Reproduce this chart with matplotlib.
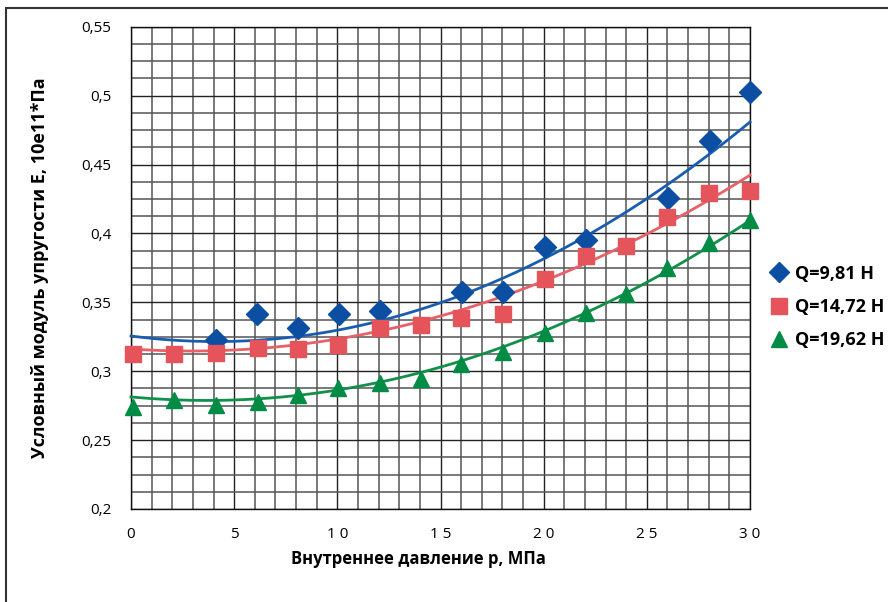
import numpy as np
import matplotlib
matplotlib.use("Agg")
import matplotlib.pyplot as plt
from matplotlib.lines import Line2D
from matplotlib.patches import Rectangle

# ---- measured points ----
p_q1 = [4.1, 6.1, 8.1, 10.1, 12.05, 16.05, 18.05, 20.05, 22.05, 26.05, 28.05, 30]
e_q1 = [0.323, 0.3415, 0.331, 0.3415, 0.344, 0.3575, 0.3575, 0.390, 0.395, 0.4257, 0.467, 0.5026]

p_all = [0.1, 2.1, 4.1, 6.15, 8.1, 10.05, 12.05, 14.05, 16.0, 18.05, 20.05, 22.05, 24.0, 26.0, 28.0, 30.0]
e_q2 = [0.3125, 0.3125, 0.3132, 0.3168, 0.316, 0.319, 0.3313, 0.3335, 0.3386, 0.3415,
        0.3669, 0.3836, 0.3909, 0.4119, 0.4293, 0.4308]
e_q3 = [0.274, 0.279, 0.2755, 0.278, 0.2827, 0.2878, 0.2914, 0.2943, 0.3052, 0.3139,
        0.3277, 0.3422, 0.356, 0.3749, 0.393, 0.4097]

# ---- trend lines ----
t1_p = [0.1, 4.07, 8.1, 10.13, 12.07, 16.03, 20.3, 22.1, 26.0, 27.9, 30.0]
t1_e = [0.325, 0.3207, 0.3263, 0.3304, 0.3377, 0.3546, 0.3843, 0.3988, 0.4315, 0.4557, 0.4835]
t2_p = [0.84, 5.04, 7.0, 10.0, 13.04, 16.9, 20.3, 24.0, 27.9, 30.0]
t2_e = [0.3154, 0.3159, 0.3178, 0.3221, 0.3328, 0.348, 0.3674, 0.3928, 0.4242, 0.4411]
t3_p = [0.2, 2.9, 5.04, 7.0, 9.4, 13.04, 15.95, 17.9, 20.8, 25.2, 27.9, 30.0]
t3_e = [0.2808, 0.2796, 0.2796, 0.2798, 0.284, 0.298, 0.3057, 0.3159, 0.3348, 0.3662, 0.3904, 0.4085]

labels = ["Q=9,81 Н", "Q=14,72 Н", "Q=19,62 Н"]
x_ticks = [0, 5, 10, 15, 20, 25, 30]
x_ticklabels = ["0", "5", "1 0", "1 5", "2 0", "2 5", "3 0"]
y_ticks = [0.2, 0.25, 0.3, 0.35, 0.4, 0.45, 0.5, 0.55]
y_ticklabels = ["0,2", "0,25", "0,3", "0,35", "0,4", "0,45", "0,5", "0,55"]

marker_colors = ["#0B4EA2", "#E5535B", "#008C45"]
line_colors = ["#1A5DB0", "#E86068", "#109048"]
markers = ["D", "s", "^"]
msizes = [11, 12, 12]

plt.rcParams['font.family'] = ['Open Sans', 'DejaVu Sans']

fig = plt.figure(figsize=(8.88, 6.02), dpi=100)
ax = fig.add_axes([131/888, 1-509/602, (750-131)/888, (509-26.7)/602])

ax.set_xlim(0, 30)
ax.set_ylim(0.2, 0.55)

# graph-paper grid
ax.set_xticks(np.arange(0, 31, 1), minor=True)
ax.set_yticks(np.arange(0.2, 0.5501, 0.0125), minor=True)
ax.grid(True, which='minor', color='#555555', linewidth=1.1)
ax.grid(True, which='major', color='#222222', linewidth=1.0)
ax.tick_params(which='both', length=0)
ax.set_axisbelow(True)

series = [(p_q1, e_q1), (p_all, e_q2), (p_all, e_q3)]
trends = [(t1_p, t1_e), (t2_p, t2_e), (t3_p, t3_e)]
xx = np.linspace(0, 30, 200)
for i, (px, ey) in enumerate(series):
    tp, te = trends[i]
    coef = np.polyfit(tp, te, 2)
    ax.plot(xx, np.polyval(coef, xx), color=line_colors[i], lw=2.0, zorder=3, clip_on=False)
    ax.plot(px, ey, linestyle='none', marker=markers[i], ms=msizes[i],
            color=marker_colors[i], zorder=4, clip_on=False)

ax.set_xticks(x_ticks)
ax.set_xticklabels(x_ticklabels, fontsize=11)
ax.set_yticks(y_ticks)
ax.set_yticklabels(y_ticklabels, fontsize=11)
ax.tick_params(axis='x', pad=13)
ax.tick_params(axis='y', pad=14)

for s in ax.spines.values():
    s.set_color('#111111')
    s.set_linewidth(1.0)

ax.set_xlabel("Внутреннее давление р, МПа", fontsize=12, fontweight='bold')
ax.xaxis.set_label_coords(0.465, -0.085)
ax.set_ylabel("Условный модуль упругости E, 10e11*Па", fontsize=13, fontweight='bold')
ax.yaxis.set_label_coords(-(131 - 49) / 619, 0.5)

handles = [Line2D([], [], linestyle='none', marker=markers[i], ms=msizes[i] - 1,
                  color=marker_colors[i]) for i in range(3)]
leg = fig.legend(handles, labels, loc='center left', bbox_to_anchor=(752/888, 1-307/602),
                 frameon=False, prop={'weight': 'bold', 'size': 13},
                 handletextpad=0.3, labelspacing=0.85, handlelength=1.2)

fig.patches.append(Rectangle((6/888, -0.01), 1.0, 1 - 8/602 + 0.01, transform=fig.transFigure,
                             fill=False, edgecolor='#333333', linewidth=1.5))

fig.savefig("out.png", dpi=100)
